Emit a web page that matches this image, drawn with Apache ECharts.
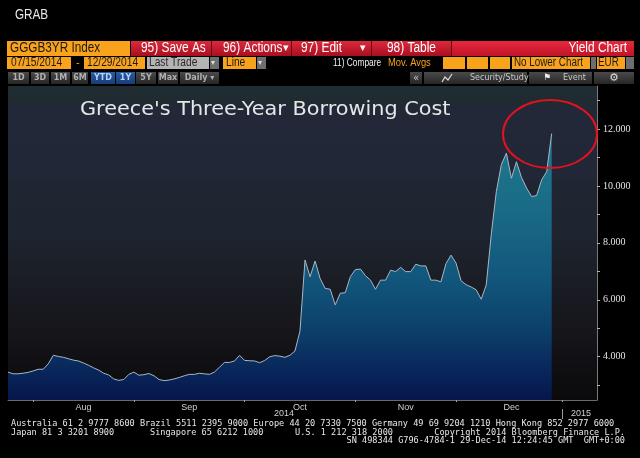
<!DOCTYPE html>
<html><head><meta charset="utf-8">
<script src="https://cdn.jsdelivr.net/npm/echarts@6/dist/echarts.min.js"></script>
<style>html,body{margin:0;padding:0;background:#000;}#c{width:640px;height:458px;}</style>
</head><body><div id="c"></div>
<script>
// Trading days (Greek market) shown on the axis
const dates = [
 '2014-07-24','2014-07-25','2014-07-28','2014-07-29','2014-07-30','2014-07-31',
 '2014-08-01','2014-08-04','2014-08-05','2014-08-06','2014-08-07','2014-08-08','2014-08-11','2014-08-12','2014-08-13','2014-08-14',
 '2014-08-18','2014-08-19','2014-08-20','2014-08-21','2014-08-22','2014-08-25','2014-08-26','2014-08-27','2014-08-28','2014-08-29',
 '2014-09-01','2014-09-02','2014-09-03','2014-09-04','2014-09-05','2014-09-08','2014-09-09','2014-09-10','2014-09-11','2014-09-12',
 '2014-09-15','2014-09-16','2014-09-17','2014-09-18','2014-09-19','2014-09-22','2014-09-23','2014-09-24','2014-09-25','2014-09-26','2014-09-29','2014-09-30',
 '2014-10-01','2014-10-02','2014-10-03','2014-10-06','2014-10-07','2014-10-08','2014-10-09','2014-10-10','2014-10-13','2014-10-14',
 '2014-10-15','2014-10-16','2014-10-17','2014-10-20','2014-10-21','2014-10-22','2014-10-23','2014-10-24','2014-10-27','2014-10-29','2014-10-30','2014-10-31',
 '2014-11-03','2014-11-04','2014-11-05','2014-11-06','2014-11-07','2014-11-10','2014-11-11','2014-11-12','2014-11-13','2014-11-14',
 '2014-11-17','2014-11-18','2014-11-19','2014-11-20','2014-11-21','2014-11-24','2014-11-25','2014-11-26','2014-11-27','2014-11-28',
 '2014-12-01','2014-12-02','2014-12-03','2014-12-04','2014-12-05','2014-12-08','2014-12-09','2014-12-10','2014-12-11','2014-12-12',
 '2014-12-15','2014-12-16','2014-12-17','2014-12-18','2014-12-19','2014-12-22','2014-12-23','2014-12-24','2014-12-29','2014-12-30','2014-12-31',
 '2015-01-02','2015-01-05','2015-01-07','2015-01-08','2015-01-09','2015-01-12','2015-01-13'
];
// Greek 3-year government bond yield (%), Jul 24 - Dec 29 2014
const yields = [
 3.46,3.40,3.40,3.42,3.45,3.50,3.56,3.56,3.75,4.05,
 4.01,3.98,3.93,3.88,3.85,3.78,3.70,3.61,3.53,3.42,
 3.36,3.22,3.17,3.20,3.38,3.46,3.35,3.37,3.41,3.33,
 3.20,3.16,3.18,3.22,3.27,3.33,3.38,3.38,3.42,3.40,
 3.38,3.46,3.63,3.80,3.80,3.85,4.05,3.87,3.86,3.85,
 3.79,3.87,4.00,4.04,4.02,3.98,4.05,4.20,4.90,7.40,
 6.81,7.36,6.75,6.40,6.37,5.82,6.23,6.25,6.81,7.06,
 7.08,6.85,6.69,6.37,6.69,6.69,7.04,6.99,7.14,6.99,
 6.99,7.25,7.19,7.19,6.69,6.69,6.63,7.27,7.57,7.29,
 6.67,6.53,6.45,6.35,6.02,6.52,8.30,9.80,10.75,11.15,
 10.27,10.85,10.30,9.93,9.63,9.66,10.21,10.50,11.84
];
const yLabelValues = [4, 6, 8, 10, 12];
const yTickValues = [3, 4, 5, 6, 7, 8, 9, 10, 11, 12, 13];
const monthNames = ['Jan','Feb','Mar','Apr','May','Jun','Jul','Aug','Sep','Oct','Nov','Dec'];
const yearLabels = ['2014', '2015'];
const titleText = "Greece's Three-Year Borrowing Cost";

// month boundaries: tick at last trading day of each month, label mid-month
const tickSet = new Set();
const monthEnds = [];
for (let i = 0; i < dates.length - 1; i++) {
  if (dates[i].slice(5,7) !== dates[i+1].slice(5,7)) { tickSet.add(i); monthEnds.push(i); }
}
const labelSet = new Set();
for (let k = 0; k < monthEnds.length - 1; k++) labelSet.add(Math.ceil((monthEnds[k] + monthEnds[k+1]) / 2));

const chart = echarts.init(document.getElementById('c'), null, {renderer: 'canvas', width: 640, height: 458});

const G = [];
function box(x, y, w, h, fill) { G.push({type:'rect', shape:{x, y, width:w, height:h}, style:{fill}, z:50, silent:true}); }
function txt(x, y, s, o) {
  o = o || {};
  G.push({type:'text', x, y, scaleX: o.sx || 1, z:60, silent:true,
    style:{text:s, fill:o.fill || '#fff', font:o.font || '14px "Liberation Sans"', align:o.align || 'left', verticalAlign:'middle'}});
}
const ORANGE = '#f9a21b';
const gradRed = new echarts.graphic.LinearGradient(0,0,0,1,[{offset:0,color:'#dc2a3c'},{offset:1,color:'#a80e20'}]);
const gradRed2 = new echarts.graphic.LinearGradient(0,0,0,1,[{offset:0,color:'#e8283c'},{offset:1,color:'#c01428'}]);
const gradGray = new echarts.graphic.LinearGradient(0,0,0,1,[{offset:0,color:'#4a4a4a'},{offset:1,color:'#262626'}]);
const gradBlue = new echarts.graphic.LinearGradient(0,0,0,1,[{offset:0,color:'#2a5da0'},{offset:1,color:'#163c78'}]);

// header
txt(15, 15, 'GRAB', {font:'15px "Liberation Sans"', fill:'#e8e8e8', sx:0.78});
// row 1
box(7, 41, 123, 15, ORANGE);
txt(10, 48.5, 'GGGB3YR Index', {fill:'#1a1a1a', sx:0.84});
box(131, 41, 503, 15, gradRed2);
[[131,80],[212,79],[292,79],[372,79]].forEach(b => box(b[0], 41, b[1], 15, gradRed));
[211, 291, 371, 451].forEach(x => box(x, 41, 1, 15, '#5a0a12'));
txt(141, 48.5, '95) Save As', {sx:0.85});
txt(223, 48.5, '96) Actions', {sx:0.85});
txt(283, 48.5, '\u25BE', {font:'11px "DejaVu Sans"'});
txt(301, 48.5, '97) Edit', {sx:0.85});
txt(360, 48.5, '\u25BE', {font:'11px "DejaVu Sans"'});
txt(387, 48.5, '98) Table', {sx:0.85});
txt(627, 48.5, 'Yield Chart', {align:'right', sx:0.85});
// row 2
const R2 = 57, R2H = 12, R2C = 63;
box(7, R2, 64, R2H, ORANGE); txt(11, R2C, '07/15/2014', {fill:'#1a1a1a', font:'12px "Liberation Sans"', sx:0.85});
txt(76, R2C, '-', {fill:ORANGE, font:'11px "Liberation Sans"'});
box(84, R2, 61, R2H, ORANGE); txt(87, R2C, '12/29/2014', {fill:'#1a1a1a', font:'12px "Liberation Sans"', sx:0.85});
box(147, R2, 62, R2H, '#b4b4b4'); txt(149, R2C, 'Last Trade', {fill:'#2a2a2a', font:'12px "Liberation Sans"', sx:0.85});
box(210, R2, 9, R2H, '#6e6e6e'); txt(211, R2C, '\u25BE', {font:'8px "DejaVu Sans"', fill:'#ddd'});
box(223, R2, 33, R2H, ORANGE); txt(226, R2C, 'Line', {fill:'#1a1a1a', font:'12px "Liberation Sans"', sx:0.85});
box(257, R2, 9, R2H, '#6e6e6e'); txt(258, R2C, '\u25BE', {font:'8px "DejaVu Sans"', fill:'#ddd'});
txt(333, R2C, '11) Compare', {font:'11px "Liberation Sans"', sx:0.76, fill:'#f0f0f0'});
txt(388, R2C, 'Mov. Avgs', {font:'11px "Liberation Sans"', sx:0.85, fill:ORANGE});
box(443, R2, 22, R2H, ORANGE); box(467, R2, 21, R2H, ORANGE); box(490, R2, 20, R2H, ORANGE);
box(512, R2, 78, R2H, ORANGE); txt(514, R2C, 'No Lower Chart', {fill:'#1a1a1a', font:'12px "Liberation Sans"', sx:0.82});
box(591, R2, 5, R2H, '#6e6e6e');
box(597, R2, 28, R2H, ORANGE); txt(598, R2C, 'EUR', {fill:'#1a1a1a', font:'12px "Liberation Sans"', sx:0.82});
box(626, R2, 8, R2H, '#6e6e6e');
// row 3
const R3 = 72, R3H = 12, R3C = 78;
[[8,21,'1D',0],[31,18,'3D',0],[51,19,'1M',0],[72,16,'6M',0],[91,24,'YTD',1],[116,19,'1Y',1],[136,20,'5Y',0],[158,20,'Max',0],[180,39,'Daily \u25BE',0]].forEach(b => {
  box(b[0], R3, b[1], R3H, b[3] ? gradBlue : gradGray);
  txt(b[0] + b[1]/2, R3C, b[2], {align:'center', font:'bold 8px "DejaVu Sans"', fill: b[3] ? '#b8d0ff' : '#b0b0b0'});
});
box(410, R3, 12, R3H, gradGray); txt(416, R3C, '\u00AB', {align:'center', font:'10px "DejaVu Sans"', fill:'#ccc'});
box(424, R3, 103, R3H, gradGray);
G.push({type:'polyline', shape:{points:[[442,82],[445,77],[448,80],[452,74]]}, style:{stroke:'#ddd', lineWidth:1.2, fill:null}, z:60, silent:true});
txt(470, R3C, 'Security/Study', {font:'8px "DejaVu Sans"', fill:'#c8c8c8'});
box(529, R3, 63, R3H, gradGray);
txt(543, R3C, '\u2691', {font:'9px "DejaVu Sans"', fill:'#eee'});
txt(563, R3C, 'Event', {font:'8px "DejaVu Sans"', fill:'#c8c8c8'});
box(594, R3, 40, R3H, gradGray);
txt(614, R3C, '\u2699', {align:'center', font:'11px "DejaVu Sans"', fill:'#ddd'});

// chart title & annotation
txt(80, 110, titleText, {font:'20px "DejaVu Sans"', fill:'#e6e6e6', sx:1.04});
G.push({type:'ellipse', shape:{cx:550, cy:134, rx:47, ry:34}, style:{stroke:'#e3121e', lineWidth:2, fill:null}, z:100, silent:true});

// year labels
txt(284, 414, yearLabels[0], {align:'center', font:'9px "Liberation Sans"', fill:'#d0d0d0'});
G.push({type:'line', shape:{x1:562.5, y1:409, x2:562.5, y2:419}, style:{stroke:'#9a9a9a', lineWidth:1}, z:60, silent:true});
txt(581, 414, yearLabels[1], {align:'center', font:'9px "Liberation Sans"', fill:'#d0d0d0'});

// footer
const FF = '8.9px "DejaVu Sans Mono"';
const FS = 0.965;
txt(11, 424, 'Australia 61 2 9777 8600 Brazil 5511 2395 9000 Europe 44 20 7330 7500 Germany 49 69 9204 1210 Hong Kong 852 2977 6000', {font:FF, fill:'#e8e8e8', sx:FS});
txt(11, 433, 'Japan 81 3 3201 8900', {font:FF, fill:'#e8e8e8', sx:FS});
txt(150, 433, 'Singapore 65 6212 1000', {font:FF, fill:'#e8e8e8', sx:FS});
txt(295, 433, 'U.S. 1 212 318 2000', {font:FF, fill:'#e8e8e8', sx:FS});
txt(625, 433, 'Copyright 2014 Bloomberg Finance L.P.', {font:FF, fill:'#e8e8e8', align:'right', sx:FS});
txt(625, 441, 'SN 498344 G796-4784-1 29-Dec-14 12:24:45 GMT  GMT+0:00', {font:FF, fill:'#e8e8e8', align:'right', sx:FS});

const option = {
  backgroundColor: '#000',
  animation: false,
  grid: {left: 8, right: 43, top: 86, bottom: 58, show: true, borderWidth: 0,
    backgroundColor: new echarts.graphic.LinearGradient(0, 0, 0, 1, [
      {offset: 0, color: '#1f2c31'}, {offset: 0.06, color: '#1f2b31'},
      {offset: 0.065, color: '#232839'}, {offset: 0.29, color: '#222738'},
      {offset: 0.30, color: '#1f2631'}, {offset: 0.47, color: '#1e2530'},
      {offset: 0.58, color: '#1b1f27'}, {offset: 0.75, color: '#17171d'},
      {offset: 0.85, color: '#121216'}, {offset: 1, color: '#0a0a0c'}])},
  xAxis: {
    type: 'category', data: dates, boundaryGap: false,
    axisLine: {lineStyle: {color: '#6a6a6a'}},
    axisTick: {interval: (i) => tickSet.has(i), length: 2, lineStyle: {color: '#a0a0a0'}},
    axisLabel: {interval: (i) => labelSet.has(i), formatter: (v) => monthNames[+v.slice(5, 7) - 1],
      color: '#d0d0d0', fontSize: 9, fontFamily: 'Liberation Sans', margin: 3},
    splitLine: {show: false}
  },
  yAxis: {
    type: 'value', position: 'right', min: 2.48, max: 13.51, scale: true,
    axisLine: {show: true, lineStyle: {color: '#7a7a7a'}},
    axisTick: {show: true, customValues: yTickValues, length: 3, lineStyle: {color: '#b0b0b0'}},
    axisLabel: {customValues: yLabelValues, formatter: (v) => v.toFixed(3), color: '#e4e4e4',
      fontFamily: 'Liberation Serif', fontSize: 10, margin: 6},
    splitLine: {show: false}
  },
  series: [{
    type: 'line', data: yields, symbol: 'none', smooth: false,
    lineStyle: {color: '#a9b6c6', width: 1},
    areaStyle: {origin: 'start', opacity: 1, color: new echarts.graphic.LinearGradient(0, 130, 0, 400, [
      {offset: 0, color: '#1f7b8d'}, {offset: 0.3, color: '#196a86'}, {offset: 0.55, color: '#12567c'},
      {offset: 0.75, color: '#0b3f69'}, {offset: 0.88, color: '#09285c'}, {offset: 1, color: '#06164c'}], true)}
  }],
  graphic: G
};
chart.setOption(option);
</script></body></html>
